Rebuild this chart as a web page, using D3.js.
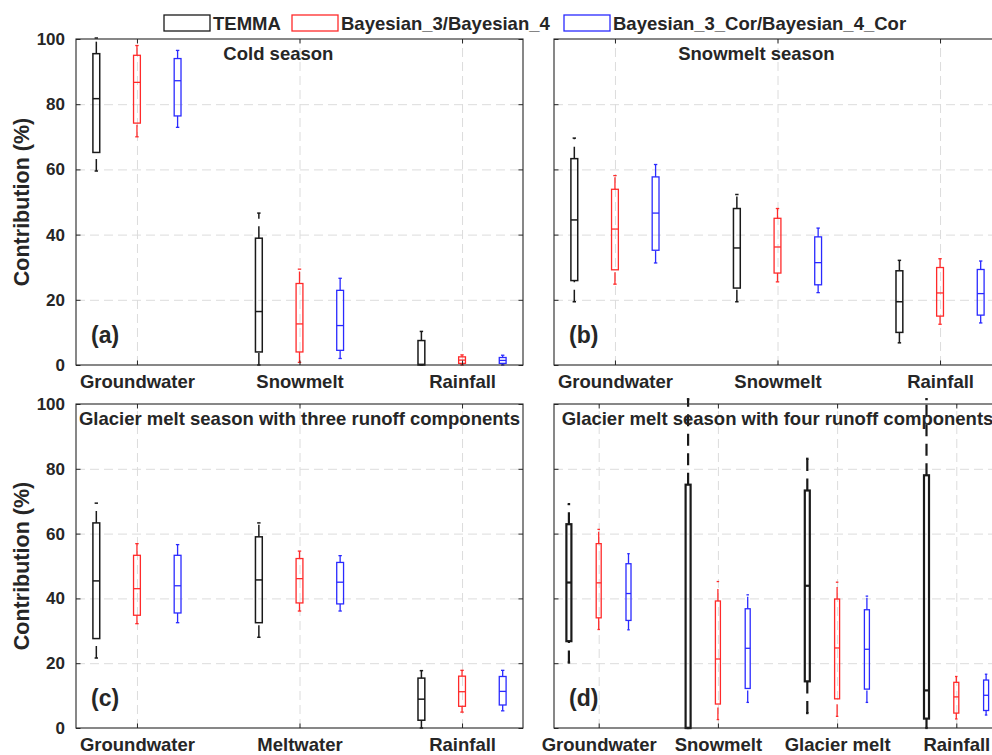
<!DOCTYPE html>
<html>
<head>
<meta charset="utf-8">
<script src="https://cdn.jsdelivr.net/npm/d3@7"></script>
<style>
  body { margin: 0; background: #fff; }
  svg text { font-family: "Liberation Sans", Arial, sans-serif; font-weight: bold; fill: #262626; }
</style>
</head>
<body>
<svg id="chart" width="992" height="755"></svg>
<script>
// Box stats per category: [low whisker, q1, median, q3, high whisker]
const catsA = ['Groundwater', 'Snowmelt', 'Rainfall'];
const temmaA = [[59.5, 65.2, 81.7, 95.5, 100.3], [0, 4.0, 16.4, 38.9, 46.6], [0, 0, 0.2, 7.5, 10.3]];
const bayesA = [[70.0, 74.2, 86.7, 95.0, 98.0], [0.8, 4.0, 12.6, 25.0, 29.4], [0, 0.5, 1.5, 2.5, 3.1]];
const corA = [[72.9, 76.4, 87.2, 94.0, 96.5], [2.0, 4.5, 12.1, 22.9, 26.6], [0, 0.5, 1.4, 2.3, 3.0]];

const catsB = ['Groundwater', 'Snowmelt', 'Rainfall'];
const temmaB = [[19.4, 25.9, 44.5, 63.3, 69.6], [19.4, 23.6, 35.9, 48.0, 52.3], [6.8, 10.0, 19.4, 28.9, 32.1]];
const bayesB = [[24.8, 29.2, 41.7, 53.9, 58.1], [25.5, 28.2, 36.2, 45.0, 48.0], [12.5, 15.0, 22.1, 29.9, 32.6]];
const corB = [[31.3, 35.2, 46.6, 57.7, 61.5], [22.2, 24.6, 31.4, 39.3, 42.0], [12.9, 15.3, 21.9, 29.3, 31.9]];

const catsC = ['Groundwater', 'Meltwater', 'Rainfall'];
const temmaC = [[21.6, 27.6, 45.4, 63.3, 69.4], [28.0, 32.5, 45.7, 59.0, 63.3], [0, 2.4, 8.9, 15.4, 17.7]];
const bayesC = [[32.2, 34.8, 43.0, 53.3, 56.9], [36.1, 38.6, 46.1, 52.3, 54.6], [4.9, 6.7, 11.2, 16.0, 17.8]];
const corC = [[32.5, 35.5, 43.9, 53.3, 56.6], [36.1, 38.3, 45.0, 51.1, 53.2], [5.3, 7.1, 11.3, 15.9, 17.8]];

const catsD = ['Groundwater', 'Snowmelt', 'Glacier melt', 'Rainfall'];
const temmaD = [[20.2, 26.8, 44.9, 62.9, 69.1], [0, 0, 0, 75.1, 101.5], [4.6, 14.4, 43.9, 73.3, 83.1], [0, 2.9, 11.6, 78.0, 101.5]];
const bayesD = [[30.4, 34.0, 44.8, 56.9, 61.3], [2.6, 7.4, 21.3, 39.2, 45.2], [3.6, 9.0, 24.7, 39.8, 45.0], [2.8, 4.6, 9.6, 14.1, 15.9]];
const corD = [[30.3, 33.2, 41.5, 50.7, 53.8], [7.9, 12.2, 24.6, 36.8, 41.1], [7.9, 12.0, 24.3, 36.5, 40.7], [4.0, 5.4, 10.1, 14.8, 16.6]];

const seriesNames = ['TEMMA', 'Bayesian_3/Bayesian_4', 'Bayesian_3_Cor/Bayesian_4_Cor'];
const seriesColors = ['#1a1a1a', '#ff2a2a', '#2a2aff'];
const panelTitles = ['Cold season', 'Snowmelt season',
  'Glacier melt season with three runoff components', 'Glacier melt season with four runoff components'];
const panelLetters = ['(a)', '(b)', '(c)', '(d)'];
const yTicks = [0, 20, 40, 60, 80, 100];

const svg = d3.select('#chart');
const axisColor = '#262626';
const panelW = 447;
const offsets = [-0.25, 0, 0.25];
const boxW = 0.042;

const panels = [
  { cats: catsA, data: [temmaA, bayesA, corA], left: 76, top: 39, bottom: 365, yLabels: true, titleX: 1.87, blackW: 1.5 },
  { cats: catsB, data: [temmaB, bayesB, corB], left: 554, top: 39, bottom: 365, yLabels: false, titleX: 1.87, blackW: 1.5 },
  { cats: catsC, data: [temmaC, bayesC, corC], left: 76, top: 404, bottom: 728, yLabels: true, titleX: null, blackW: 1.5 },
  { cats: catsD, data: [temmaD, bayesD, corD], left: 554, top: 404, bottom: 728, yLabels: false, titleX: null, blackW: 2.2 }
];

function styleAxis(g) {
  g.select('.domain').remove();
  g.selectAll('line').attr('stroke', axisColor).attr('stroke-width', 1);
}

panels.forEach((p, pi) => {
  const n = p.cats.length;
  const x = d3.scaleLinear().domain([0.625, n + 0.375]).range([p.left, p.left + panelW]);
  const y = d3.scaleLinear().domain([0, 100]).range([p.bottom, p.top]);
  const h = p.bottom - p.top;
  const catVals = d3.range(1, n + 1);
  const g = svg.append('g');

  // Grid lines
  g.append('g')
    .attr('transform', `translate(${p.left},0)`)
    .call(d3.axisLeft(y).tickValues(yTicks.slice(1, -1)).tickSize(-panelW).tickFormat(''))
    .call(a => a.select('.domain').remove())
    .selectAll('line').attr('stroke', '#dcdcdc').attr('stroke-dasharray', '9,5');
  g.append('g')
    .attr('transform', `translate(0,${p.bottom})`)
    .call(d3.axisBottom(x).tickValues(catVals).tickSize(-h).tickFormat(''))
    .call(a => a.select('.domain').remove())
    .selectAll('line').attr('stroke', '#dcdcdc').attr('stroke-dasharray', '9,5');

  // Boxes
  p.data.forEach((series, si) => {
    const color = seriesColors[si];
    const sw = si === 0 ? p.blackW : 1.3;
    series.forEach((s, ci) => {
      const [lo, q1, med, q3, hi] = s;
      const xc = ci + 1 + offsets[si];
      const x0 = x(xc - boxW / 2), x1 = x(xc + boxW / 2);
      const c0 = x(xc - boxW / 4), c1 = x(xc + boxW / 4);
      const bg = g.append('g').attr('stroke', color).attr('stroke-width', sw).attr('fill', 'none');
      // whiskers, drawn upward so the dash pattern starts at the lower end
      bg.append('line').attr('x1', x(xc)).attr('x2', x(xc)).attr('y1', y(lo)).attr('y2', y(q1))
        .attr('stroke-dasharray', '12,7.5');
      bg.append('line').attr('x1', x(xc)).attr('x2', x(xc)).attr('y1', y(q3)).attr('y2', y(hi))
        .attr('stroke-dasharray', '12,7.5');
      bg.append('line').attr('x1', c0).attr('x2', c1).attr('y1', y(lo)).attr('y2', y(lo));
      bg.append('line').attr('x1', c0).attr('x2', c1).attr('y1', y(hi)).attr('y2', y(hi));
      bg.append('rect').attr('x', x0).attr('y', y(q3)).attr('width', x1 - x0).attr('height', y(q1) - y(q3));
      bg.append('line').attr('x1', x0).attr('x2', x1).attr('y1', y(med)).attr('y2', y(med));
    });
  });

  // Axes (ticks inside, box on)
  const yl = g.append('g').attr('transform', `translate(${p.left},0)`)
    .call(d3.axisLeft(y).tickValues(yTicks).tickSize(-4.5).tickPadding(11)
      .tickFormat(p.yLabels ? d3.format('d') : ''));
  styleAxis(yl);
  yl.selectAll('text').style('font-size', '17px').attr('fill', axisColor);
  styleAxis(g.append('g').attr('transform', `translate(${p.left + panelW},0)`)
    .call(d3.axisRight(y).tickValues(yTicks).tickSize(-4.5).tickFormat('')));
  styleAxis(g.append('g').attr('transform', `translate(0,${p.top})`)
    .call(d3.axisTop(x).tickValues(catVals).tickSize(-4.5).tickFormat('')));
  const xl = g.append('g').attr('transform', `translate(0,${p.bottom})`)
    .call(d3.axisBottom(x).tickValues(catVals).tickSize(-4.5).tickPadding(10)
      .tickFormat(d => p.cats[d - 1]));
  styleAxis(xl);
  xl.selectAll('text').style('font-size', '18.5px').attr('fill', axisColor);

  g.append('rect').attr('x', p.left).attr('y', p.top).attr('width', panelW).attr('height', h)
    .attr('fill', 'none').attr('stroke', axisColor).attr('stroke-width', 1.1);

  // Title and panel letter
  const tx = p.titleX === null ? p.left + panelW / 2 : x(p.titleX);
  g.append('text').attr('x', tx).attr('y', p.top + 21).attr('text-anchor', 'middle')
    .style('font-size', '18.5px').text(panelTitles[pi]);
  g.append('text').attr('x', p.left + 15).attr('y', p.bottom - 22)
    .style('font-size', '23px').text(panelLetters[pi]);

  if (p.yLabels) {
    g.append('text').attr('transform', `translate(29,${(p.top + p.bottom) / 2}) rotate(-90)`)
      .attr('text-anchor', 'middle').style('font-size', '21.5px').text('Contribution (%)');
  }
});

// Legend
const legendX = [164, 292, 564];
seriesNames.forEach((name, i) => {
  svg.append('rect').attr('x', legendX[i]).attr('y', 15).attr('width', 46).attr('height', 16)
    .attr('fill', '#fff').attr('stroke', seriesColors[i]).attr('stroke-width', 1.3);
  svg.append('text').attr('x', legendX[i] + 49).attr('y', 29.5)
    .style('font-size', '18.5px').text(name);
});
</script>
</body>
</html>
